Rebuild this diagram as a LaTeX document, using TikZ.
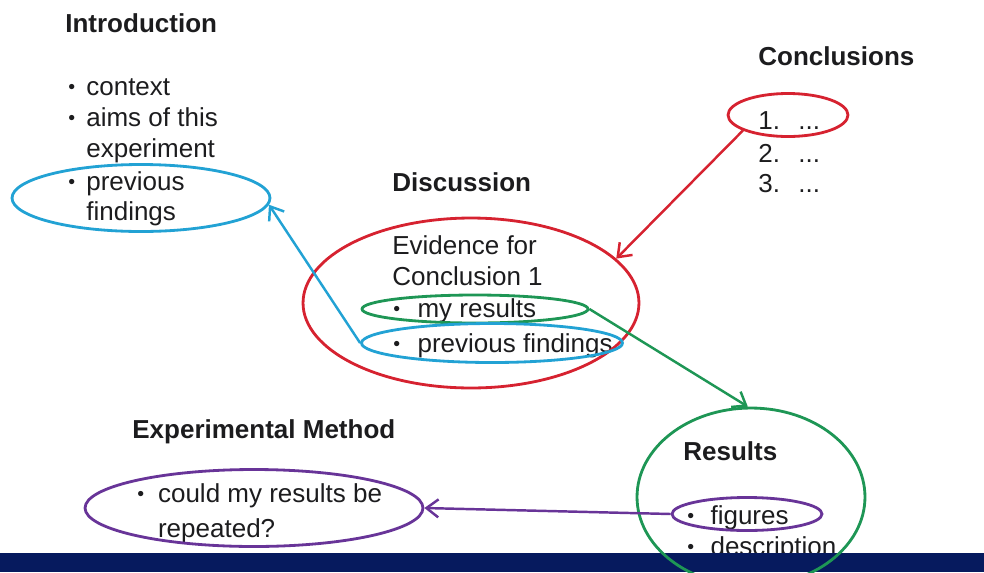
\documentclass[tikz,border=0pt]{standalone}
\usepackage{fontspec}
\setmainfont{Liberation Sans}
\usepackage{graphicx}
\usepackage{tikz}
\usetikzlibrary{shapes.geometric}
\usetikzlibrary{arrows.meta}
\definecolor{my_red}{RGB}{214,34,48}
\definecolor{my_blue}{RGB}{34,162,212}
\definecolor{my_green}{RGB}{30,150,85}
\definecolor{my_purple}{RGB}{104,52,152}
\definecolor{my_band}{RGB}{6,26,94}
\definecolor{my_ink}{RGB}{28,28,30}
\newcommand{\bul}[1][0.36cm]{\makebox[#1][l]{\raisebox{0.04em}{\scalebox{0.75}{\textbullet}}}}
\newcommand{\nobul}[1][0.36cm]{\hspace*{#1}}
\tikzset{my_map/.style={x=0.02cm,y=-0.02cm}}
\tikzset{my_text/.style={anchor=base west, inner sep=0pt, text=my_ink, font=\fontsize{14.8}{17.8}\selectfont}}
\tikzset{my_head/.style={my_text, font=\fontsize{14.8}{17.8}\selectfont\bfseries}}
\tikzset{my_ring/.style={ellipse, draw, inner sep=0pt, line width=1.6pt}}
\tikzset{my_link/.style={-{Straight Barb[length=2.4mm,width=3.6mm]}, line width=1.4pt}}

\begin{document}
\begin{tikzpicture}[my_map]
    \useasboundingbox (0,0) rectangle (984,572);
    \clip (0,0) rectangle (984,572);
    %\draw[help lines,step=50] (0,0) grid (984,572);

    % introduction
    \node[my_head] (intro) at (65,32) {Introduction};
    \node[my_text] (i1) at (68,95) {\bul context};
    \node[my_text] (i2) at (68,126) {\bul aims of this};
    \node[my_text] (i3) at (68,157) {\nobul experiment};
    \node[my_text] (i4) at (68,190) {\bul previous};
    \node[my_text] (i5) at (68,220) {\nobul findings};

    % discussion
    \node[my_head] (disc) at (392,191) {Discussion};
    \node[my_text] (d1) at (392,254) {Evidence for};
    \node[my_text] (d2) at (392,285) {Conclusion 1};
    \node[my_text] (d3) at (393,317) {\bul[0.34cm] my results};
    \node[my_text] (d4) at (393,352) {\bul[0.34cm] previous findings};

    % conclusions
    \node[my_head] (concl) at (758,65) {Conclusions};
    \node[my_text] (c1) at (758,129) {\makebox[0.8cm][l]{1.}...};
    \node[my_text] (c2) at (758,162) {\makebox[0.8cm][l]{2.}...};
    \node[my_text] (c3) at (758,192) {\makebox[0.8cm][l]{3.}...};

    % experimental method
    \node[my_head] (meth) at (132,438) {Experimental Method};
    \node[my_text] (m1) at (137,502) {\bul[0.27cm] could my results be};
    \node[my_text] (m2) at (137,537) {\nobul[0.27cm] repeated?};

    % results
    \node[my_head] (res) at (683,460) {Results};
    \node[my_text] (r1) at (687,524) {\bul[0.32cm] figures};
    \node[my_text] (r2) at (687,555) {\bul[0.32cm] description};

    % rings
    \node[my_ring, my_blue, minimum width=5.16cm, minimum height=1.34cm] (prevI) at (141,198) {};
    \node[my_ring, my_red, minimum width=6.72cm, minimum height=3.4cm] (evid) at (471,303) {};
    \node[my_ring, my_green, minimum width=4.52cm, minimum height=0.56cm] (mine) at (475,309) {};
    \node[my_ring, my_blue, minimum width=5.22cm, minimum height=0.78cm] (prevD) at (492,343) {};
    \node[my_ring, my_red, minimum width=2.4cm, minimum height=0.86cm] (first) at (788,115) {};
    \node[my_ring, my_purple, minimum width=6.76cm, minimum height=1.54cm] (again) at (254,508) {};
    \node[my_ring, my_purple, minimum width=3.0cm, minimum height=0.66cm] (figs) at (747,514) {};

    % footer band
    \fill[my_band] (0,553) rectangle (984,572);
    \node[my_ring, my_green, minimum width=4.56cm, minimum height=3.56cm] (resring) at (751,497) {};

    \path[my_link]
        (first.199) edge [my_red] (evid.17)
        (prevD.west) edge [my_blue] (prevI.-3)
        (mine.east) edge [my_green] (resring.92)
        (figs.west) edge [my_purple] (again.east)
    ;
\end{tikzpicture}
\end{document}
